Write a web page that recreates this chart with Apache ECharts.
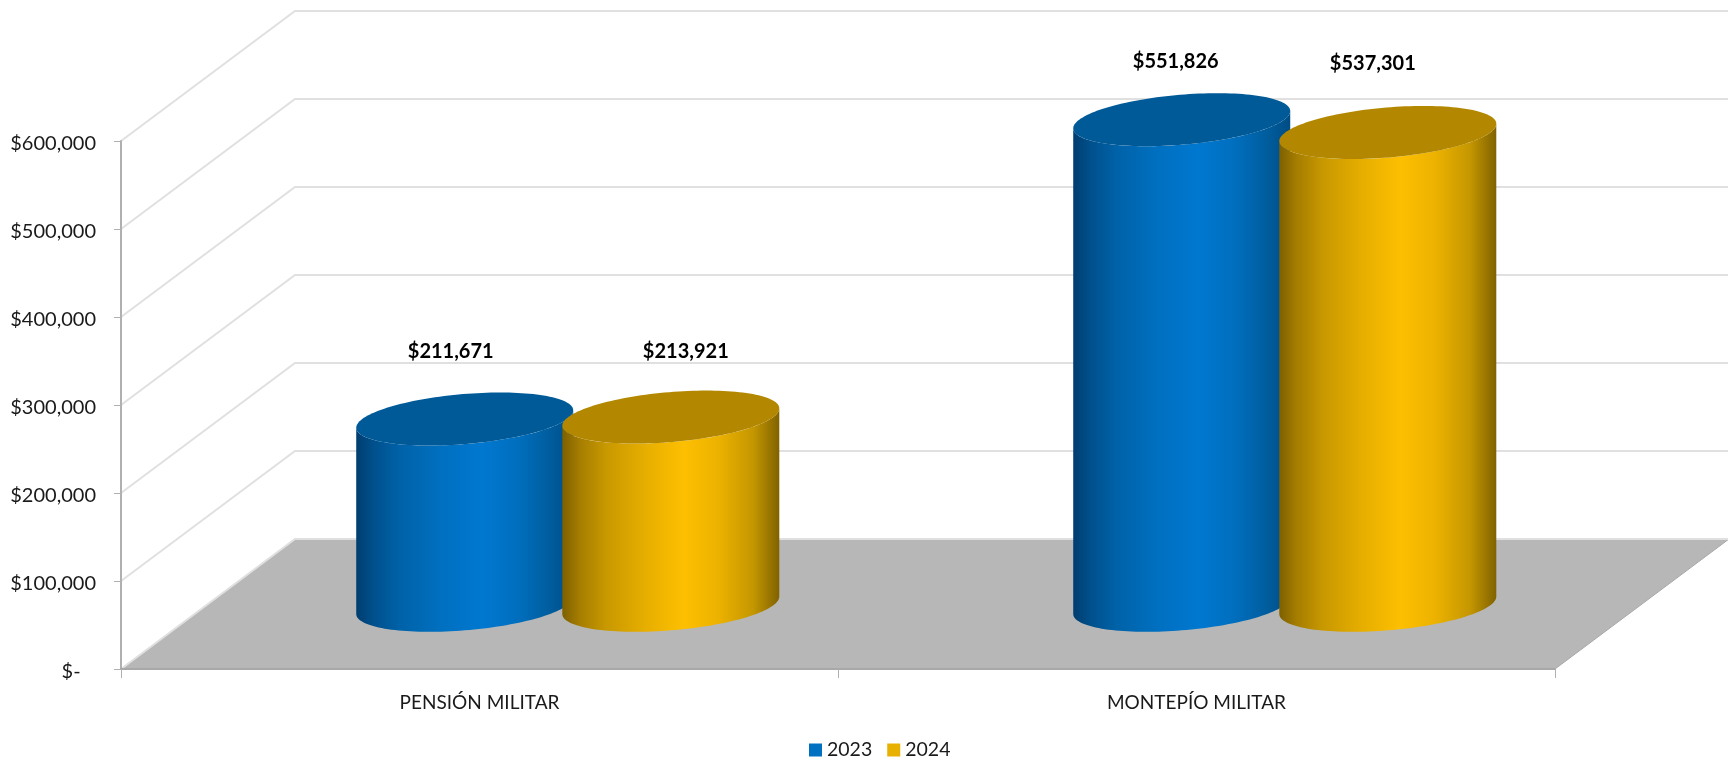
<!DOCTYPE html>
<html>
<head>
<meta charset="utf-8">
<style>html,body{margin:0;padding:0;background:#fff}#c{width:1728px;height:762px}</style>
<script src="https://cdn.jsdelivr.net/npm/echarts@6/dist/echarts.min.js"></script>
</head>
<body>
<div id="c"></div>
<script>
const categories = ['PENSIÓN MILITAR', 'MONTEPÍO MILITAR'];
const years = ['2023', '2024'];
const values2023 = [211671, 551826];
const values2024 = [213921, 537301];
const yTicks = [0, 100000, 200000, 300000, 400000, 500000, 600000];

const FONT = 'Lato, "Open Sans", sans-serif';
const DEPTH = { x: 174, y: -130 };
const BAR = { ru: 0.143, rv: 0.204, shift: 0.1437, baseDepth: 0.49, nudgeX: 3 };
const LABEL_SHIFT = { '2023': [[-14, -67], [-6, -58]], '2024': [[15, -66], [-15, -69]] };

const blueStops = [
  [0, '#003d70'], [0.08, '#00508c'], [0.2, '#0062a8'], [0.38, '#006fbf'],
  [0.58, '#0078d0'], [0.75, '#006ebd'], [0.9, '#005c9c'], [1, '#004c84']
];
const goldStops = [
  [0, '#7d6000'], [0.08, '#a57d00'], [0.2, '#c89800'], [0.38, '#e6ae00'],
  [0.56, '#fdbf00'], [0.72, '#ecb200'], [0.88, '#c49600'], [1, '#806200']
];
const capColor = { '2023': '#005a98', '2024': '#b38800' };
const legendColor = { '2023': '#0070c0', '2024': '#e8b000' };

function money(v) {
  return '$' + v.toLocaleString('en-US');
}

function band(api) { return api.size([1, 0])[0]; }

function leftRight(api) {
  const w = band(api);
  return [api.coord([0, 0])[0] - w / 2, api.coord([1, 0])[0] + w / 2];
}

function renderFloor(params, api) {
  const [l, r] = leftRight(api);
  const y = api.coord([0, 0])[1];
  return {
    type: 'polygon',
    shape: { points: [[l, y], [l + DEPTH.x, y + DEPTH.y], [r + DEPTH.x, y + DEPTH.y], [r, y]] },
    style: { fill: '#b7b7b7', stroke: '#a8a8a8', lineWidth: 1 }
  };
}

function renderWall(params, api) {
  const [l, r] = leftRight(api);
  const y = api.coord([0, api.value(0)])[1];
  return {
    type: 'polyline',
    shape: { points: [[l, y], [l + DEPTH.x, y + DEPTH.y], [r + DEPTH.x, y + DEPTH.y]] },
    style: { fill: null, stroke: '#e0e0e0', lineWidth: 2 }
  };
}

function ringPoint(c, ru, rv, t) {
  return [
    c[0] + ru * Math.cos(t) + rv * DEPTH.x * Math.sin(t),
    c[1] + rv * DEPTH.y * Math.sin(t)
  ];
}

function renderCylinder(year, sign) {
  return function (params, api) {
    const cat = api.value(0), val = api.value(1);
    const w = band(api);
    const ru = w * BAR.ru, rv = BAR.rv;
    const zero = api.coord([cat, 0]);
    const top = api.coord([cat, val]);
    const ox = sign * w * BAR.shift + DEPTH.x * BAR.baseDepth + BAR.nudgeX;
    const oy = DEPTH.y * BAR.baseDepth;
    const baseC = [zero[0] + ox, zero[1] + oy];
    const topC = [top[0] + ox, top[1] + oy];
    const t0 = Math.atan2(rv * DEPTH.x, ru); // right-hand silhouette point
    const steps = 72;
    const body = [];
    for (let i = 0; i <= steps; i++) {
      body.push(ringPoint(baseC, ru, rv, t0 - i / steps * Math.PI));
    }
    for (let i = steps; i >= 0; i--) {
      body.push(ringPoint(topC, ru, rv, t0 - i / steps * Math.PI));
    }
    const cap = [];
    for (let i = 0; i < 2 * steps; i++) {
      cap.push(ringPoint(topC, ru, rv, i / steps * Math.PI));
    }
    const stops = (year === '2023' ? blueStops : goldStops).map(s => ({ offset: s[0], color: s[1] }));
    const shift = LABEL_SHIFT[year][cat];
    return {
      type: 'group',
      children: [
        { type: 'polygon', shape: { points: body },
          style: { fill: { type: 'linear', x: 0, y: 0, x2: 1, y2: 0, colorStops: stops } } },
        { type: 'polygon', shape: { points: cap }, style: { fill: capColor[year] } },
        { type: 'text', style: {
            x: topC[0] + shift[0], y: topC[1] + shift[1],
            text: money(val), align: 'center', verticalAlign: 'middle',
            font: 'bold 20px ' + FONT, fill: '#000'
        } }
      ]
    };
  };
}

const chart = echarts.init(document.getElementById('c'), null, { renderer: 'canvas' });
chart.setOption({
  animation: false,
  backgroundColor: '#fff',
  textStyle: { fontFamily: FONT },
  grid: { left: 121, right: 173, top: 141, bottom: 93 },
  legend: {
    left: 809, top: 740, padding: 0, itemWidth: 13, itemHeight: 13, itemGap: 15,
    icon: 'rect',
    textStyle: { fontFamily: FONT, fontSize: 19.5, color: '#1a1a1a' },
    data: years.map(y => ({ name: y, itemStyle: { color: legendColor[y] } }))
  },
  xAxis: {
    type: 'category', data: categories, z: 5,
    axisLine: { show: true, lineStyle: { color: '#a8a8a8', width: 2 } },
    axisTick: { show: true, alignWithLabel: false, length: 9, lineStyle: { color: '#b0b0b0', width: 1 } },
    axisLabel: { color: '#1a1a1a', fontSize: 19, fontFamily: FONT, margin: 24 }
  },
  yAxis: {
    type: 'value', min: 0, max: 600000, interval: 100000, z: 5,
    axisLine: { show: true, lineStyle: { color: '#b0b0b0', width: 2 } },
    axisTick: { show: true, length: 7, lineStyle: { color: '#b0b0b0', width: 1 } },
    splitLine: { show: false },
    axisLabel: {
      color: '#1a1a1a', fontSize: 20, fontFamily: FONT, margin: 25,
      verticalAlign: 'top', lineHeight: 5,
      formatter: v => v === 0 ? '$-   ' : money(v)
    }
  },
  series: [
    { type: 'custom', coordinateSystem: 'cartesian2d', silent: true, data: [[0]], renderItem: renderFloor, z: 1, encode: { y: 0 } },
    { type: 'custom', coordinateSystem: 'cartesian2d', silent: true, data: yTicks.map(v => [v]), renderItem: renderWall, z: 1, encode: { y: 0 } },
    { type: 'custom', name: '2023', coordinateSystem: 'cartesian2d', z: 3,
      itemStyle: { color: legendColor['2023'] },
      data: values2023.map((v, i) => [i, v]), encode: { x: 0, y: 1 },
      renderItem: renderCylinder('2023', -1) },
    { type: 'custom', name: '2024', coordinateSystem: 'cartesian2d', z: 4,
      itemStyle: { color: legendColor['2024'] },
      data: values2024.map((v, i) => [i, v]), encode: { x: 0, y: 1 },
      renderItem: renderCylinder('2024', 1) }
  ]
});
</script>
</body>
</html>
